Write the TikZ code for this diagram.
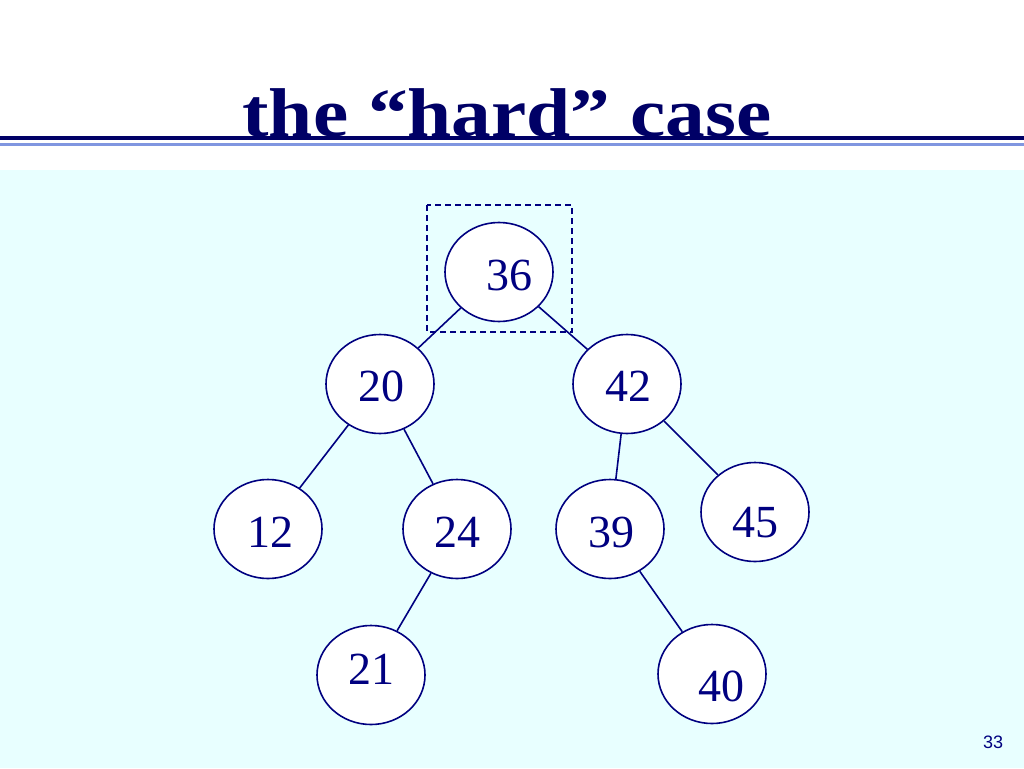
\documentclass[tikz,border=0pt]{standalone}
\usepackage{fontspec}
\setmainfont{Liberation Serif}
\newfontfamily\pagefont{Liberation Sans}
\usepackage{xcolor}
\usetikzlibrary{shapes.geometric}
\definecolor{navy}{RGB}{0,0,128}
\definecolor{titlenavy}{RGB}{0,0,102}
\definecolor{ruleblue}{RGB}{128,150,224}
\definecolor{paleCyan}{RGB}{232,255,255}

\begin{document}
\begin{tikzpicture}[x=1pt, y=-1pt,
  vert/.style={ellipse,draw=navy,line width=1.6pt,fill=white,minimum width=108pt,minimum height=99pt,inner sep=0pt},
  num/.style={text=navy,font=\fontsize{46}{50}\selectfont},
  edge/.style={draw=navy,line width=1.6pt}]
  \useasboundingbox (0,0) rectangle (1024,768);
  % Background and title rules
  \fill[white] (0,0) rectangle (1024,768);
  \fill[paleCyan] (0,170) rectangle (1024,768);
  \draw[titlenavy,line width=4.5pt] (0,138) -- (1024,138);
  \draw[ruleblue,line width=2.5pt] (0,144.5) -- (1024,144.5);
  \node[anchor=base,text=titlenavy,inner sep=0pt,xscale=1.15,
        font=\fontsize{69}{72}\selectfont\bfseries] (title) at (507,136) {the “hard” case};

  % Tree
  \node[vert,label={[num,xshift=10pt,yshift=-3pt]center:36}] (n36) at (499,272) {};
  \node[vert,label={[num,xshift=1.5pt,yshift=-2.5pt]center:20}] (n20) at (380,384) {};
  \node[vert,label={[num,xshift=1.5pt,yshift=-2.5pt]center:42}] (n42) at (627,384) {};
  \node[vert,label={[num,xshift=2pt,yshift=-3pt]center:12}] (n12) at (268,529) {};
  \node[vert,label={[num,xshift=0.5pt,yshift=-3pt]center:24}] (n24) at (457,529) {};
  \node[vert,label={[num,xshift=1pt,yshift=-3pt]center:39}] (n39) at (610,529) {};
  \node[vert,label={[num,xshift=0.5pt,yshift=-11pt]center:45}] (n45) at (755,512) {};
  \node[vert,label={[num,xshift=0.5pt,yshift=6pt]center:21}] (n21) at (371,675) {};
  \node[vert,label={[num,xshift=9.5pt,yshift=-12pt]center:40}] (n40) at (712,674) {};

  % Edges
  \foreach \a/\b in {n36/n20,n36/n42,n20/n12,n20/n24,n24/n21,n42/n39,n42/n45,n39/n40} {
    \draw[edge] (\a) -- (\b);
  }

  % Marked root
  \draw[navy,line width=1.5pt,dash pattern=on 6pt off 4pt] (427,205) rectangle (572,332);

  \node[text=navy,font=\pagefont\fontsize{18}{20}\selectfont] (page) at (993,742) {33};
\end{tikzpicture}
\end{document}
